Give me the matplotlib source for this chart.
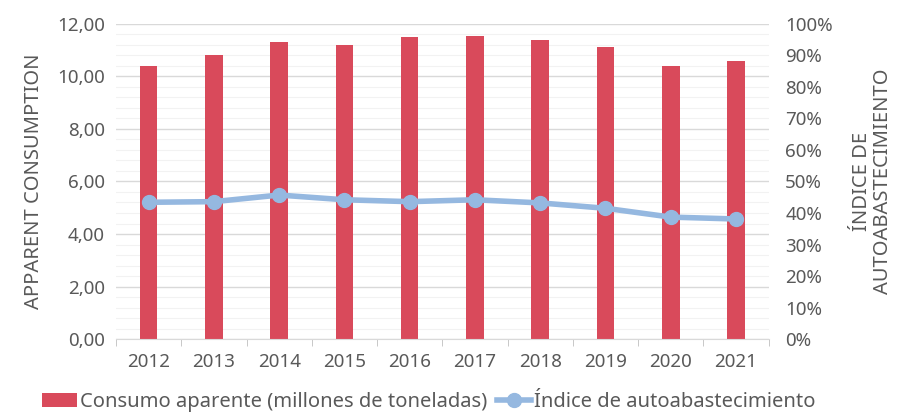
import matplotlib
matplotlib.use("Agg")
from matplotlib import pyplot as plt
from matplotlib.ticker import FuncFormatter, MultipleLocator, FixedLocator
import numpy as np

plt.rcParams['font.family'] = ['Noto Sans', 'DejaVu Sans']

years = ["2012", "2013", "2014", "2015", "2016", "2017", "2018", "2019", "2020", "2021"]
consumption = [10.39, 10.82, 11.30, 11.21, 11.52, 11.55, 11.39, 11.11, 10.39, 10.58]
self_supply = [43.4, 43.6, 45.7, 44.2, 43.6, 44.2, 43.2, 41.5, 38.7, 38.1]

bar_color = "#D94A5B"
line_color = "#95B8E0"
text_color = "#595959"

fig = plt.figure(figsize=(8.99, 4.12), dpi=100)
ax = fig.add_axes([0.129, 0.177, 0.726, 0.765])
x = np.arange(len(years))

# gridlines
ax.set_ylim(0, 12)
ax.yaxis.set_major_locator(MultipleLocator(2))
ax.yaxis.set_minor_locator(MultipleLocator(0.4))
ax.grid(axis="y", which="major", color="#D9D9D9", lw=1.0)
ax.grid(axis="y", which="minor", color="#F2F2F2", lw=0.8)
ax.set_axisbelow(True)

bars = ax.bar(x, consumption, width=0.27, color=bar_color, zorder=2,
              label="Consumo aparente (millones de toneladas)")
ax.set_xlim(-0.5, len(years) - 0.5)
ax.set_xticks(x)
ax.set_xticklabels(years)
ax.xaxis.set_minor_locator(FixedLocator(np.arange(-0.5, len(years), 1)))
ax.tick_params(axis="x", which="major", length=0, pad=10, labelsize=13.5, colors=text_color)
ax.tick_params(axis="x", which="minor", length=5, color="#BFBFBF", direction="out")
ax.tick_params(axis="y", which="both", length=0, labelsize=13.5, colors=text_color, pad=8)
ax.yaxis.set_major_formatter(FuncFormatter(lambda v, p: f"{v:.2f}".replace(".", ",")))
for s in ["top", "right", "left"]:
    ax.spines[s].set_visible(False)
ax.spines["bottom"].set_color("#D9D9D9")
ax.set_ylabel("APPARENT CONSUMPTION", fontsize=14.5, color=text_color, labelpad=9)

ax2 = ax.twinx()
ax2.set_ylim(0, 100)
ax2.yaxis.set_major_locator(MultipleLocator(10))
ax2.yaxis.set_major_formatter(FuncFormatter(lambda v, p: f"{v:.0f}%"))
line, = ax2.plot(x, self_supply, color=line_color, lw=4, marker="o", ms=10, zorder=3,
                 label="Índice de autoabastecimiento")
ax2.tick_params(axis="y", length=0, labelsize=13.5, colors=text_color, pad=12)
for s in ["top", "right", "left", "bottom"]:
    ax2.spines[s].set_visible(False)
ax2.set_ylabel("ÍNDICE DE\nAUTOABASTECIMIENTO", fontsize=14.5, color=text_color,
               rotation=90, labelpad=14, linespacing=1.05)

fig.legend(handles=[bars, line], loc="lower left", bbox_to_anchor=(0.027, -0.045),
           ncol=2, frameon=False, fontsize=14.5, labelcolor=text_color,
           handlelength=1.7, handletextpad=0.15, columnspacing=0.5)

fig.savefig("out.png", dpi=100)
